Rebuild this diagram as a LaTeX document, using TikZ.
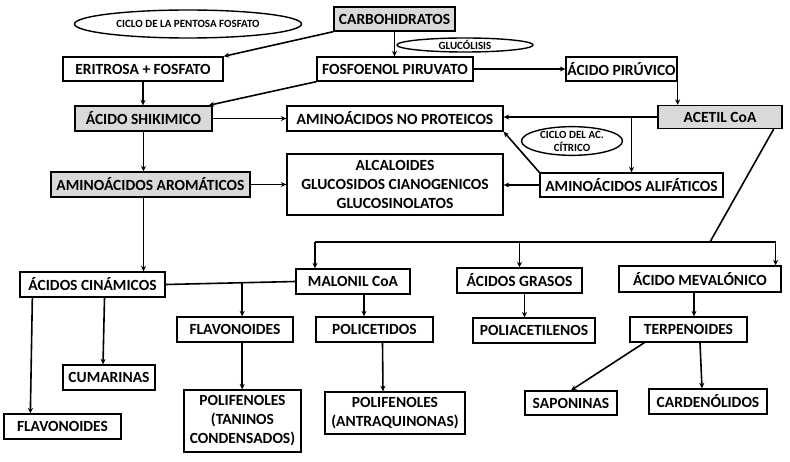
\documentclass[tikz,border=0pt]{standalone}
\usepackage{fontspec}
\setmainfont{Carlito}
\usetikzlibrary{arrows.meta,shapes.geometric,calc}
\begin{document}
\begin{tikzpicture}[x=1pt,y=-1pt,
  bx/.style={draw, line width=1.3pt, inner sep=0pt, font=\fontsize{15.5}{19}\selectfont\bfseries, align=center},
  gbx/.style={bx, fill=gray!30},
  ell/.style={draw, ellipse, line width=1.4pt, inner sep=0pt, font=\fontsize{11}{12}\selectfont\bfseries, align=center},
  ar/.style={line width=1.6pt, -{Stealth[length=5.5pt,width=5pt]}},
  ln/.style={line width=1.6pt}]
\useasboundingbox (0,0) rectangle (790,462);
\fill[white] (0,0) rectangle (790,462);
% ellipses
\node[ell, minimum width=227pt, minimum height=28pt] (pent) at (188,24) {CICLO DE LA PENTOSA FOSFATO};
\node[ell, minimum width=136pt, minimum height=14pt] (gluc) at (465,45) {GLUC\'OLISIS};
\node[ell, minimum width=101pt, minimum height=27pt, font=\fontsize{11}{13}\selectfont\bfseries] (krebs) at (572,141) {CICLO DEL AC.\\C\'ITRICO};
% boxes
\node[gbx, minimum width=121pt, minimum height=24pt] (carb) at (394.5,19) {CARBOHIDRATOS};
\node[bx, minimum width=160pt, minimum height=24pt] (eri) at (143,69) {ERITROSA + FOSFATO};
\node[bx, minimum width=156pt, minimum height=24pt] (fosfo) at (395,69) {FOSFOENOL PIRUVATO};
\node[bx, minimum width=111pt, minimum height=24pt] (piru) at (621.5,69) {\'ACIDO PIR\'UVICO};
\node[gbx, minimum width=137pt, minimum height=25pt] (shik) at (143.5,118.5) {\'ACIDO SHIKIMICO};
\node[bx, minimum width=216pt, minimum height=25pt] (noprot) at (395,118.5) {AMINO\'ACIDOS NO PROTEICOS};
\node[gbx, minimum width=124pt, minimum height=23pt] (acetil) at (720,117) {ACETIL CoA};
\node[gbx, minimum width=199pt, minimum height=25pt] (arom) at (150.5,184.5) {AMINO\'ACIDOS AROM\'ATICOS};
\node[bx, minimum width=216pt, minimum height=61pt] (alc) at (395,184.5) {ALCALOIDES\\GLUCOSIDOS CIANOGENICOS\\GLUCOSINOLATOS};
\node[bx, minimum width=183pt, minimum height=24pt] (alif) at (631.5,185) {AMINO\'ACIDOS ALIF\'ATICOS};
\node[bx, minimum width=145pt, minimum height=25pt] (cin) at (92.5,284.5) {\'ACIDOS CIN\'AMICOS};
\node[bx, minimum width=114pt, minimum height=25pt] (mal) at (353,281.5) {MALONIL CoA};
\node[bx, minimum width=125pt, minimum height=25pt] (gras) at (519.5,280.5) {\'ACIDOS GRASOS};
\node[bx, minimum width=162pt, minimum height=26pt] (mev) at (700,279) {\'ACIDO MEVAL\'ONICO};
\node[bx, minimum width=116pt, minimum height=25pt] (flavm) at (235,329.5) {FLAVONOIDES};
\node[bx, minimum width=117pt, minimum height=25pt] (polic) at (374.5,329.5) {POLICETIDOS};
\node[bx, minimum width=122pt, minimum height=25pt] (poliac) at (534,330.5) {POLIACETILENOS};
\node[bx, minimum width=117pt, minimum height=25pt] (terp) at (688.5,329.5) {TERPENOIDES};
\node[bx, minimum width=92pt, minimum height=25pt] (cum) at (109,377.5) {CUMARINAS};
\node[bx, minimum width=117pt, minimum height=25pt] (flavl) at (62.5,426.5) {FLAVONOIDES};
\node[bx, minimum width=117pt, minimum height=62pt] (tan) at (242.5,421) {POLIFENOLES\\(TANINOS\\CONDENSADOS)};
\node[bx, minimum width=140pt, minimum height=42pt] (antra) at (395,413) {POLIFENOLES\\(ANTRAQUINONAS)};
\node[bx, minimum width=92pt, minimum height=24pt] (sap) at (571,403) {SAPONINAS};
\node[bx, minimum width=118pt, minimum height=25pt] (card) at (708,401.5) {CARDEN\'OLIDOS};
% junction coordinates
\coordinate (br) at (alif.north |- acetil.west);
\coordinate (bj) at (710,242);
\coordinate (bL) at (315,242);
\coordinate (bR) at ($(mev.north east)+(-6,0)$);
\coordinate (bRt) at (bR |- bL);
\coordinate (jc) at ($(cin.east)!0.59!(mal.west)$);
\coordinate (ms) at ($(mal.south)+(11,0)$);
\coordinate (pn) at (ms |- polic.north);
\coordinate (gs) at ($(gras.south)+(5,0)$);
\coordinate (pan) at (gs |- poliac.north);
\coordinate (mvs) at ($(mev.south)+(-6,0)$);
\coordinate (tn) at (mvs |- terp.north);
% connectors
\draw[ar] (carb.south west) -- (eri.north east);
\draw[ar] (carb.south) -- (carb.south |- fosfo.north);
\draw[ar] (eri.south) -- (eri.south |- shik.north);
\draw[ar] (fosfo.south west) -- ($(shik.north east)+(-4,0)$);
\draw[ar] (fosfo.east) -- (piru.west);
\draw[ar] (piru.south east) -- (piru.south east |- acetil.north);
\draw[ar] (shik.east) -- (shik.east -| noprot.west);
\draw[ar] (acetil.west) -- (acetil.west -| noprot.east);
\draw[ar] (br) -- (alif.north);
\draw[ar] (alif.north west) -- (noprot.south east);
\draw[ar] (alif.west) -- (alif.west -| alc.east);
\draw[ar] (arom.east) -- (arom.east -| alc.west);
\draw[ar] (shik.south) -- (shik.south |- arom.north);
\draw[ar] (shik.south |- arom.south) -- (shik.south |- cin.north);
\draw[ln] ($(acetil.south east)+(-9,0)$) -- (bj);
\draw[ln] (bL) -- (bRt);
\draw[ar] (bL) -- (bL |- mal.north);
\draw[ar] (gras.north |- bL) -- (gras.north);
\draw[ar] (bRt) -- (bR);
\draw[ln] (cin.east) -- (mal.west);
\draw[ar] (jc) -- (jc |- flavm.north);
\draw[ar] (jc |- flavm.south) -- (jc |- tan.north);
\draw[ar] (ms) -- (pn);
\draw[ar] ($(polic.south)+(8,0)$) -- ($(antra.north)+(-12,0)$);
\draw[ar] ($(cin.south)+(12,0)$) -- ($(cum.north)+(-6,0)$);
\draw[ar] ($(cin.south west)+(13,0)$) -- ($(flavl.north west)+(27,0)$);
\draw[ar] (gs) -- (pan);
\draw[ar] (mvs) -- (tn);
\draw[ar] ($(terp.south west)+(15,0)$) -- (sap.north);
\draw[ar] ($(terp.south)+(11.5,0)$) -- ($(card.north)+(-6,0)$);
\end{tikzpicture}
\end{document}
